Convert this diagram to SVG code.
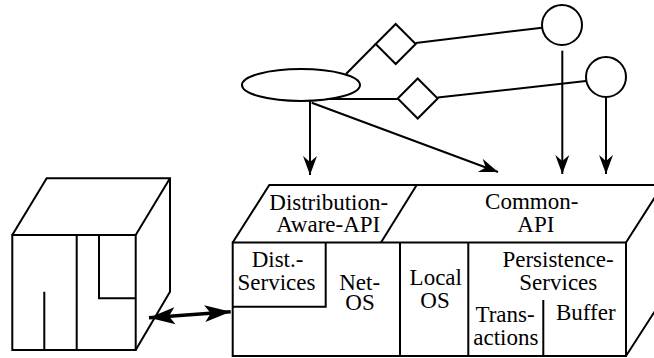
<svg xmlns="http://www.w3.org/2000/svg" width="654" height="358" viewBox="0 0 654 358">
<style>
.s{fill:none;stroke:#000;stroke-width:2;stroke-linejoin:miter}
.w{fill:#fff;stroke:#000;stroke-width:2}
.c{stroke:#000;stroke-width:2;fill:none}
.t{font-family:"Liberation Serif","Times New Roman","DejaVu Serif",serif;font-size:23px;fill:#000;text-anchor:middle}
</style>
<defs>
<marker id="ah" markerUnits="userSpaceOnUse" markerWidth="24" markerHeight="16" viewBox="-20 -8 22 16" refX="0" refY="0" orient="auto">
<path d="M0,0 L-19,-7 L-13,0 L-19,7 Z" fill="#000"/>
</marker>
<marker id="big" markerUnits="userSpaceOnUse" markerWidth="30" markerHeight="20" viewBox="-28 -10 30 20" refX="0" refY="0" orient="auto-start-reverse">
<path d="M0,0 L-26,-8.5 L-20,0 L-26,8.5 Z" fill="#000"/>
</marker>
</defs>
<g id="computer">
<path class="s" d="M12.3,235 L46.7,178.3 L170,178.3 L170,291.7 L135.7,350 M135.7,235 L170,178.3"/>
<rect class="s" x="12.3" y="235" width="123.4" height="115"/>
<path class="s" d="M76.7,235 V350 M44.3,291.7 V350 M99,235 V298.3 H135.7"/>
</g>
<g id="system" class="t" font-family="Liberation Serif, Times New Roman, serif">
<path class="s" d="M232.7,242.5 L269.3,185 L664,185 M626,242.5 L664,183 M626,356 L664,297"/>
<rect class="s" x="232.7" y="242.5" width="393.3" height="113.5"/>
<path class="s" d="M381,242.5 L416.7,185"/>
<path class="s" d="M400,242.5 V356 M468.3,242.5 V356 M232.7,306.7 H325.7 V242.5 M543.3,300 V356"/>
<text x="328.7" y="210">Distribution-</text>
<text x="328.3" y="231.7">Aware-API</text>
<text x="531.7" y="209.3">Common-</text>
<text x="535.8" y="231.7">API</text>
<text x="277.5" y="266.7">Dist.-</text>
<text x="276.5" y="290">Services</text>
<text x="359.7" y="290">Net-</text>
<text x="360" y="310">OS</text>
<text x="435.8" y="285">Local</text>
<text x="435" y="308.3">OS</text>
<text x="558" y="266.7">Persistence-</text>
<text x="558.3" y="290">Services</text>
<text x="505" y="321.7">Trans-</text>
<text x="505.8" y="345">actions</text>
<text x="585.8" y="320">Buffer</text>
</g>
<g id="ellipse"><ellipse class="w" cx="301" cy="85" rx="59" ry="16"/></g>
<g id="diamond1"><path class="w" d="M395.7,24 L415.7,44 L395.7,64 L375.7,44 Z"/></g>
<g id="diamond2"><path class="w" d="M417.7,78.5 L437.7,98.5 L417.7,118.5 L397.7,98.5 Z"/></g>
<g id="circle1"><circle class="w" cx="562" cy="25" r="20"/></g>
<g id="circle2"><circle class="w" cx="606" cy="77" r="20"/></g>
<g id="connectors">
<path class="c" d="M346,74 L375.7,44"/>
<path class="c" d="M415.7,43 L542,27.7"/>
<path class="c" d="M327,99 L397.7,99"/>
<path class="c" d="M437.7,97.5 L586,81"/>
<path class="c" d="M310,101 V175" marker-end="url(#ah)"/>
<path class="c" d="M311.7,102.7 L498,172" marker-end="url(#ah)"/>
<path class="c" d="M562.3,50.7 V174" marker-end="url(#ah)"/>
<path class="c" d="M606,97.7 V174" marker-end="url(#ah)"/>
<path d="M149,317.7 L230.7,311.7" stroke="#000" stroke-width="3.5" fill="none" marker-start="url(#big)" marker-end="url(#big)"/>
</g>
</svg>
